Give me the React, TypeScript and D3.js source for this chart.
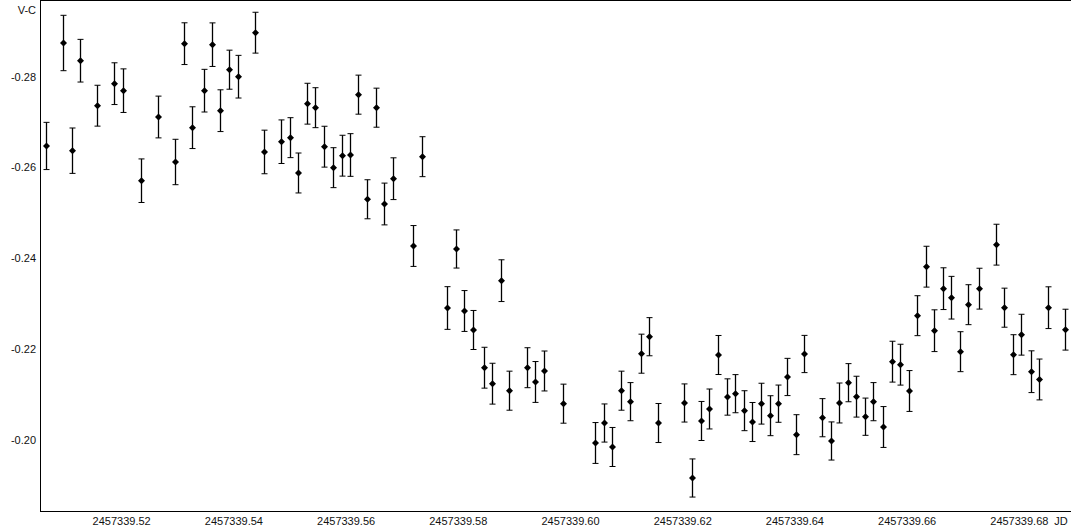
import React from 'react';
import * as d3 from 'd3';

// Julian dates of each observation
const jd: number[] = [
  2457339.50651, 2457339.50948, 2457339.51109, 2457339.51251, 2457339.51560, 2457339.51863,
  2457339.52023, 2457339.52344, 2457339.52647, 2457339.52945, 2457339.53105, 2457339.53248,
  2457339.53462, 2457339.53604, 2457339.53758, 2457339.53907, 2457339.54068, 2457339.54371,
  2457339.54537, 2457339.54834, 2457339.54995, 2457339.55143, 2457339.55298, 2457339.55440,
  2457339.55601, 2457339.55761, 2457339.55922, 2457339.56064, 2457339.56217, 2457339.56373,
  2457339.56533, 2457339.56676, 2457339.56836, 2457339.57192, 2457339.57348, 2457339.57799,
  2457339.57959, 2457339.58102, 2457339.58262, 2457339.58458, 2457339.58606, 2457339.58761,
  2457339.58909, 2457339.59225, 2457339.59367, 2457339.59528, 2457339.59861, 2457339.60437,
  2457339.60597, 2457339.60740, 2457339.60905, 2457339.61060, 2457339.61251, 2457339.61399,
  2457339.61560, 2457339.62018, 2457339.62160, 2457339.62321, 2457339.62474, 2457339.62629,
  2457339.62790, 2457339.62932, 2457339.63087, 2457339.63235, 2457339.63396, 2457339.63556,
  2457339.63699, 2457339.63854, 2457339.64019, 2457339.64162, 2457339.64483, 2457339.64643,
  2457339.64786, 2457339.64946, 2457339.65089, 2457339.65244, 2457339.65392, 2457339.65565,
  2457339.65731, 2457339.65873, 2457339.66034, 2457339.66176, 2457339.66337, 2457339.66479,
  2457339.66640, 2457339.66782, 2457339.66943, 2457339.67080, 2457339.67276, 2457339.67579,
  2457339.67722, 2457339.67887, 2457339.68030, 2457339.68203, 2457339.68351, 2457339.68506,
  2457339.68809,
];

// V-C magnitude difference
const vc: number[] = [
  -0.26476, -0.28744, -0.26372, -0.28354, -0.27363, -0.27848,
  -0.27694, -0.25711, -0.27114, -0.26123, -0.28729, -0.26879,
  -0.27694, -0.28707, -0.27253, -0.28156, -0.28002, -0.28971,
  -0.26344, -0.26570, -0.26659, -0.25881, -0.27407, -0.27319,
  -0.26460, -0.25998, -0.26262, -0.26277, -0.27606, -0.25302,
  -0.27319, -0.25198, -0.25755, -0.24273, -0.26240, -0.22907,
  -0.24207, -0.22841, -0.22423, -0.21592, -0.21240, -0.23509,
  -0.21086, -0.21592, -0.21278, -0.21520, -0.20800, -0.19934,
  -0.20374, -0.19846, -0.21086, -0.20844, -0.21901, -0.22275,
  -0.20374, -0.20815, -0.19163, -0.20419, -0.20683, -0.21872,
  -0.20947, -0.21020, -0.20645, -0.20396, -0.20800, -0.20535,
  -0.20800, -0.21388, -0.20117, -0.21894, -0.20491, -0.19978,
  -0.20815, -0.21262, -0.20954, -0.20513, -0.20844, -0.20286,
  -0.21725, -0.21659, -0.21079, -0.22738, -0.23817, -0.22407,
  -0.23333, -0.23134, -0.21945, -0.22980, -0.23333, -0.24302,
  -0.22914, -0.21879, -0.22319, -0.21504, -0.21333, -0.22914,
  -0.22430,
];

// 1-sigma errors
const err: number[] = [
  0.0052, 0.0061, 0.0050, 0.0047, 0.0045, 0.0046,
  0.0048, 0.0048, 0.0046, 0.0050, 0.0046, 0.0046,
  0.0047, 0.0048, 0.0046, 0.0043, 0.0047, 0.0045,
  0.0048, 0.0048, 0.0044, 0.0044, 0.0045, 0.0044,
  0.0045, 0.0044, 0.0045, 0.0047, 0.0043, 0.0043,
  0.0043, 0.0046, 0.0046, 0.0045, 0.0044, 0.0047,
  0.0042, 0.0045, 0.0043, 0.0045, 0.0045, 0.0046,
  0.0043, 0.0044, 0.0045, 0.0044, 0.0043, 0.0045,
  0.0042, 0.0043, 0.0043, 0.0042, 0.0043, 0.0042,
  0.0043, 0.0042, 0.0042, 0.0043, 0.0044, 0.0043,
  0.0040, 0.0042, 0.0044, 0.0043, 0.0045, 0.0044,
  0.0041, 0.0041, 0.0044, 0.0041, 0.0042, 0.0042,
  0.0044, 0.0042, 0.0045, 0.0041, 0.0042, 0.0045,
  0.0045, 0.0045, 0.0045, 0.0044, 0.0045, 0.0046,
  0.0046, 0.0047, 0.0044, 0.0044, 0.0045, 0.0045,
  0.0043, 0.0044, 0.0045, 0.0046, 0.0045, 0.0046,
  0.0045,
];

const xTicks = [2457339.52, 2457339.54, 2457339.56, 2457339.58, 2457339.60, 2457339.62, 2457339.64, 2457339.66, 2457339.68];
const yTicks = [-0.28, -0.26, -0.24, -0.22, -0.20];

const W = 1071;
const H = 531;
const left = 40;
const right = 1070;
const top = 0;
const bottom = 511;

const font = '"Liberation Sans", Arial, sans-serif';

export default function App() {
  const x = d3.scaleLinear().domain([2457339.50544, 2457339.68903]).range([left, right]);
  // V-C is drawn inverted: brighter (more negative) at top
  const y = d3.scaleLinear().domain([-0.29691, -0.18436]).range([top, bottom]);

  const diamond = 'M0,-3.5L3.5,0L0,3.5L-3.5,0Z';

  return (
    <svg width={W} height={H} style={{ position: 'absolute', left: 0, top: 0, background: '#fff' }}>
      <rect width={W} height={H} fill="#fff" />
      {/* frame */}
      <line x1={left + 0.5} x2={left + 0.5} y1={top} y2={bottom + 0.5} stroke="#000" strokeWidth={1} />
      <line x1={left} x2={W} y1={bottom + 0.5} y2={bottom + 0.5} stroke="#000" strokeWidth={1} />
      <line x1={left} x2={W} y1={0.5} y2={0.5} stroke="#000" strokeWidth={1} />

      {/* y tick labels */}
      {yTicks.map((t) => (
        <text key={t} x={36} y={y(t)} dy="0.35em" textAnchor="end" fontFamily={font} fontSize={11} fill="#111">
          {d3.format('.2f')(t).replace('−', '-')}
        </text>
      ))}
      <text x={36} y={10} dy="0.35em" textAnchor="end" fontFamily={font} fontSize={11} fill="#111">V-C</text>

      {/* x tick labels */}
      {xTicks.map((t) => (
        <text key={t} x={x(t)} y={521} dy="0.35em" textAnchor="middle" fontFamily={font} fontSize={11} fill="#111">
          {t.toFixed(2)}
        </text>
      ))}
      <text x={1061} y={521} dy="0.35em" textAnchor="middle" fontFamily={font} fontSize={11} fill="#111">JD</text>

      {/* error bars and points */}
      {jd.map((d, i) => {
        const cx = Math.round(x(d)) + 0.5;
        const y0 = y(vc[i] - err[i]);
        const y1 = y(vc[i] + err[i]);
        return (
          <g key={i} stroke="#000" strokeWidth={1.3}>
            <line x1={cx} x2={cx} y1={y0} y2={y1} />
            <line x1={cx - 3} x2={cx + 3} y1={y0} y2={y0} strokeWidth={1} />
            <line x1={cx - 3} x2={cx + 3} y1={y1} y2={y1} strokeWidth={1} />
            <path d={diamond} transform={`translate(${cx},${y(vc[i])})`} fill="#000" stroke="none" />
          </g>
        );
      })}
    </svg>
  );
}
